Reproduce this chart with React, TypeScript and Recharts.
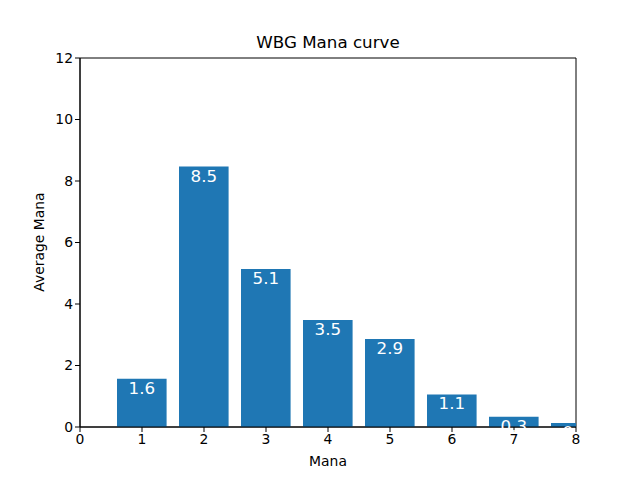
import React from "react"
import { BarChart, Bar, XAxis, YAxis, LabelList, ReferenceArea } from "recharts"

const manaCosts = [1, 2, 3, 4, 5, 6, 7, 8]
const averageCounts = [1.57, 8.47, 5.14, 3.48, 2.86, 1.06, 0.33, 0.13]
const xTicks = [0, 1, 2, 3, 4, 5, 6, 7, 8]
const yTicks = [0, 2, 4, 6, 8, 10, 12]

const data = manaCosts.map((m, i) => ({ mana: m, avg: averageCounts[i] }))

const FONT = "DejaVu Sans, sans-serif"
const tickStyle = { fill: "#000", fontSize: 13.9, fontFamily: FONT }

const renderValue = (props: any) => {
  const { x, y, width, value } = props
  return (
    <text
      x={Number(x) + Number(width) / 2}
      y={Number(y)}
      dy={15}
      textAnchor="middle"
      fill="#fff"
      fontSize={16.7}
      fontFamily={FONT}
    >
      {Number(value).toFixed(1)}
    </text>
  )
}

const App = () => {
  return (
    <div style={{ position: "absolute", left: 0, top: 0, width: 640, height: 480, background: "#fff" }}>
      <div
        style={{
          position: "absolute", left: 80, width: 496, top: 32, textAlign: "center",
          fontFamily: FONT, fontSize: 16.7, color: "#000",
        }}
      >
        WBG Mana curve
      </div>
      <div
        style={{
          position: "absolute", left: 80, width: 496, top: 453, textAlign: "center",
          fontFamily: FONT, fontSize: 13.9, color: "#000",
        }}
      >
        Mana
      </div>
      <div
        style={{
          position: "absolute", left: 39, top: 242, transform: "translate(-50%, -50%) rotate(-90deg)",
          whiteSpace: "nowrap", fontFamily: FONT, fontSize: 13.9, color: "#000",
        }}
      >
        Average Mana
      </div>
      <BarChart
        width={640}
        height={480}
        data={data}
        margin={{ top: 58, right: 64, bottom: 23, left: 30 }}
        style={{ position: "absolute", left: 0, top: 0 }}
      >
        <XAxis
          dataKey="mana"
          type="number"
          domain={[0, 8]}
          ticks={xTicks}
          allowDataOverflow
          height={30}
          tickSize={5}
          tick={tickStyle}
          stroke="#000"
          interval={0}
        />
        <YAxis
          type="number"
          domain={[0, 12]}
          ticks={yTicks}
          allowDataOverflow
          width={50}
          tickSize={5}
          tick={tickStyle}
          stroke="#000"
          interval={0}
        />
        <Bar dataKey="avg" fill="#1f77b4" barSize={49.6} isAnimationActive={false}>
          <LabelList dataKey="avg" content={renderValue} />
        </Bar>
        <ReferenceArea x1={0} x2={8} y1={0} y2={12} fill="none" stroke="#000" strokeWidth={1} ifOverflow="visible" />
      </BarChart>
    </div>
  )
}

export default App
